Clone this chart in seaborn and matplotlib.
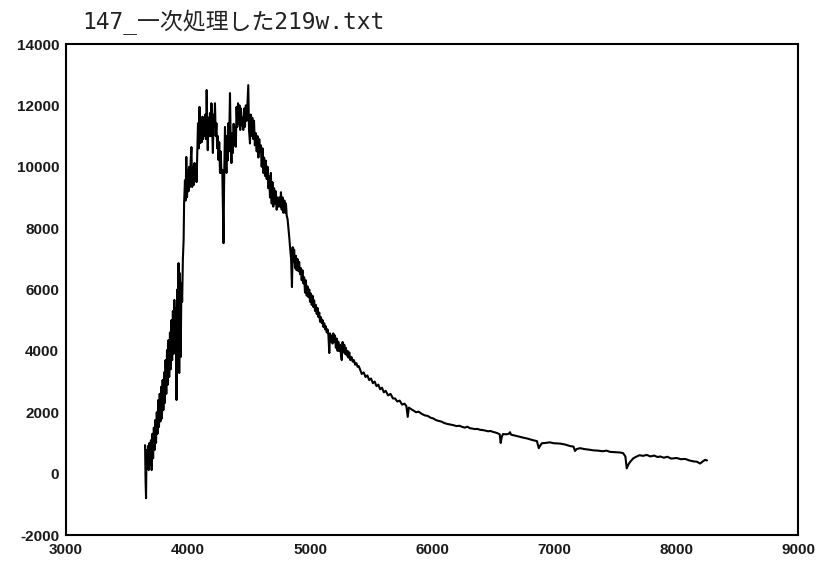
import numpy as np
import pandas as pd
import matplotlib
matplotlib.use('Agg')
import matplotlib.pyplot as plt
import seaborn as sns

# spectrum (wavelength, counts)
wavelength = [
    3648, 3652, 3656, 3660, 3666, 3672, 3678, 3684, 3690, 3696, 3702, 3708, 3714, 3720, 3726, 3732,
    3738, 3744, 3750, 3756, 3762, 3768, 3774, 3780, 3786, 3792, 3798, 3804, 3810, 3816, 3822, 3828,
    3834, 3840, 3846, 3852, 3858, 3864, 3870, 3876, 3882, 3888, 3894, 3900, 3906, 3912, 3918, 3922,
    3928, 3934, 3940, 3946, 3952, 3958, 3964, 3968, 3975, 3980, 3986, 3992, 3998, 4004, 4010, 4016,
    4022, 4028, 4034, 4040, 4046, 4052, 4058, 4064, 4070, 4076, 4082, 4088, 4094, 4100, 4106, 4112,
    4118, 4124, 4130, 4136, 4142, 4148, 4153, 4158, 4162, 4168, 4174, 4180, 4186, 4192, 4198, 4204,
    4210, 4216, 4221, 4227, 4233, 4239, 4245, 4250, 4256, 4262, 4268, 4274, 4281, 4286, 4291, 4296,
    4303, 4309, 4315, 4320, 4325, 4330, 4336, 4344, 4350, 4356, 4362, 4368, 4374, 4380, 4386, 4392,
    4398, 4404, 4410, 4416, 4422, 4428, 4434, 4440, 4446, 4453, 4460, 4467, 4474, 4481, 4488, 4494,
    4500, 4508, 4514, 4520, 4527, 4535, 4541, 4548, 4555, 4563, 4570, 4577, 4584, 4590, 4597, 4604,
    4611, 4617, 4624, 4631, 4638, 4645, 4652, 4658, 4665, 4672, 4679, 4686, 4692, 4699, 4706, 4713,
    4720, 4727, 4734, 4741, 4748, 4755, 4762, 4768, 4775, 4782, 4790, 4797, 4803, 4809, 4816, 4823,
    4830, 4838, 4845, 4852, 4858, 4864, 4870, 4877, 4884, 4890, 4897, 4904, 4911, 4918, 4925, 4932,
    4938, 4945, 4952, 4959, 4966, 4973, 4980, 4987, 4994, 5000, 5007, 5014, 5020, 5027, 5034, 5041,
    5048, 5055, 5062, 5069, 5076, 5082, 5090, 5097, 5104, 5110, 5117, 5123, 5130, 5137, 5144, 5151,
    5158, 5164, 5171, 5178, 5185, 5191, 5198, 5205, 5212, 5219, 5226, 5232, 5239, 5246, 5253, 5260,
    5267, 5274, 5281, 5288, 5294, 5301, 5308, 5315, 5322, 5330, 5340, 5350, 5360, 5370, 5380, 5390,
    5400, 5410, 5424, 5440, 5455, 5470, 5485, 5500, 5515, 5530, 5545, 5560, 5575, 5590, 5605, 5620,
    5640, 5660, 5680, 5697, 5715, 5735, 5755, 5775, 5790, 5801, 5810, 5830, 5850, 5870, 5890, 5915,
    5940, 5965, 5990, 6010, 6030, 6052, 6075, 6100, 6125, 6150, 6175, 6200, 6225, 6250, 6270, 6290,
    6311, 6330, 6350, 6370, 6393, 6415, 6440, 6460, 6480, 6500, 6520, 6541, 6555, 6563, 6572, 6582,
    6610, 6630, 6639, 6648, 6670, 6700, 6721, 6750, 6775, 6800, 6828, 6860, 6875, 6885, 6900, 6930,
    6965, 7000, 7049, 7090, 7131, 7160, 7172, 7185, 7213, 7250, 7290, 7320, 7360, 7400, 7430, 7459,
    7500, 7540, 7566, 7585, 7596, 7610, 7623, 7650, 7678, 7700, 7730, 7760, 7790, 7820, 7850, 7869,
    7900, 7930, 7960, 8005, 8040, 8075, 8110, 8142, 8170, 8197, 8220, 8238, 8254,
]
counts = [
    930, -210, -800, 770, 200, 900, 117, 1000, 300, 1090, 117, 1300, 500, 1500, 770, 1750,
    1000, 2000, 1300, 2400, 1520, 2600, 1700, 2830, 1800, 3050, 2070, 3300, 2300, 3700, 2600, 4030,
    2900, 4350, 3150, 4600, 3400, 5000, 3700, 5300, 3900, 5660, 4000, 5400, 2400, 6000, 4300, 6860,
    3280, 6530, 3800, 6200, 5600, 7000, 7610, 8800, 9560, 8900, 10320, 9010, 9900, 9200, 10000, 9340,
    10200, 10640, 9340, 10000, 9400, 10120, 9560, 10100, 9500, 10400, 11420, 10600, 11950, 10770, 11500, 10800,
    11630, 10900, 11600, 11000, 11700, 10900, 12500, 11200, 10540, 11600, 11000, 11750, 11000, 12070, 11200, 10450,
    11700, 11300, 12070, 11000, 11420, 10600, 11000, 10220, 10800, 9800, 10500, 9800, 9900, 8600, 7510, 9500,
    11300, 10500, 9800, 11000, 10200, 11420, 10500, 12400, 10800, 10120, 11100, 10450, 11400, 10700, 11300, 10650,
    11950, 11300, 12070, 11400, 12000, 11200, 11900, 11350, 11600, 11200, 11900, 11300, 12000, 11500, 12100, 12660,
    11200, 10760, 11700, 11000, 11600, 10900, 11500, 10700, 11100, 10500, 11000, 10300, 10900, 10500, 10700, 10000,
    10600, 9800, 10300, 9700, 10200, 9600, 10000, 9300, 9700, 9000, 9800, 8800, 9500, 8700, 9300, 8800,
    9200, 8600, 9000, 8700, 9000, 8700, 9170, 8600, 9000, 8500, 8900, 8500, 8800, 8400, 8300, 8000,
    7700, 7300, 7000, 6080, 7380, 6900, 7300, 6700, 7100, 6630, 7000, 6600, 6900, 6500, 6700, 6300,
    6630, 6200, 6400, 5900, 6300, 5800, 6100, 5750, 6000, 5600, 5870, 5500, 5800, 5430, 5650, 5300,
    5500, 5200, 5400, 5100, 5250, 4950, 5100, 4900, 5000, 4780, 4900, 4700, 4800, 4600, 4700, 4500,
    3930, 4570, 4300, 4500, 4240, 4570, 4300, 4500, 4100, 4400, 4000, 4300, 4000, 4200, 3900, 3700,
    4290, 3950, 4200, 3900, 4100, 3850, 4000, 3780, 3950, 3700, 3800, 3650, 3700, 3550, 3600, 3480,
    3500, 3400, 3250, 3300, 3150, 3200, 3050, 3100, 2950, 3000, 2850, 2900, 2750, 2800, 2650, 2700,
    2550, 2600, 2450, 2450, 2350, 2380, 2250, 2280, 2200, 1850, 2150, 2100, 2050, 2000, 2020, 1950,
    1900, 1880, 1820, 1800, 1750, 1720, 1700, 1650, 1620, 1600, 1580, 1550, 1560, 1520, 1500, 1530,
    1480, 1470, 1450, 1460, 1430, 1420, 1400, 1380, 1390, 1360, 1340, 1310, 1280, 1000, 1200, 1290,
    1280, 1300, 1350, 1270, 1250, 1220, 1200, 1170, 1150, 1120, 1090, 1060, 830, 900, 990, 1000,
    1020, 990, 980, 950, 900, 880, 740, 800, 830, 800, 780, 760, 750, 730, 750, 710,
    700, 690, 670, 560, 170, 300, 380, 500, 560, 600, 580, 610, 560, 590, 540, 560,
    520, 550, 490, 510, 470, 480, 430, 400, 390, 330, 400, 450, 430,
]

x_ticks = [3000, 4000, 5000, 6000, 7000, 8000, 9000]
y_ticks = [-2000, 0, 2000, 4000, 6000, 8000, 10000, 12000, 14000]
title = '147_一次処理した219w.txt'

df = pd.DataFrame({'wavelength': wavelength, 'counts': counts})

sns.set_style('white')
plt.rcParams['font.family'] = ['Liberation Sans', 'DejaVu Sans']

fig = plt.figure(figsize=(8.21, 5.62), dpi=100)
ax = fig.add_axes([0.0804, 0.048, 0.8916, 0.8737])

sns.lineplot(data=df, x='wavelength', y='counts', ax=ax, sort=False,
             estimator=None, color='black', linewidth=1.5)

ax.set_xlim(3000, 9000)
ax.set_ylim(-2000, 14000)
ax.set_xticks(x_ticks)
ax.set_yticks(y_ticks)
ax.set_xticklabels([str(v) for v in x_ticks])
ax.set_yticklabels([str(v) for v in y_ticks])
ax.set_xlabel('')
ax.set_ylabel('')

for s in ax.spines.values():
    s.set_visible(True)
    s.set_color('black')
    s.set_linewidth(1.5)

ax.tick_params(axis='both', direction='inout', length=6, width=1.3,
               color='black', labelsize=11, labelcolor='#1a1a1a')
for lab in ax.get_xticklabels() + ax.get_yticklabels():
    lab.set_fontweight('bold')
ax.tick_params(axis='y', pad=2)
ax.tick_params(axis='x', pad=3)

fig.text(0.1, 0.961, title, ha='left', va='center', fontsize=16.5,
         family=['DejaVu Sans Mono', 'Noto Sans CJK JP'], color='#222222')

fig.savefig('out.png', dpi=100, facecolor='white')
